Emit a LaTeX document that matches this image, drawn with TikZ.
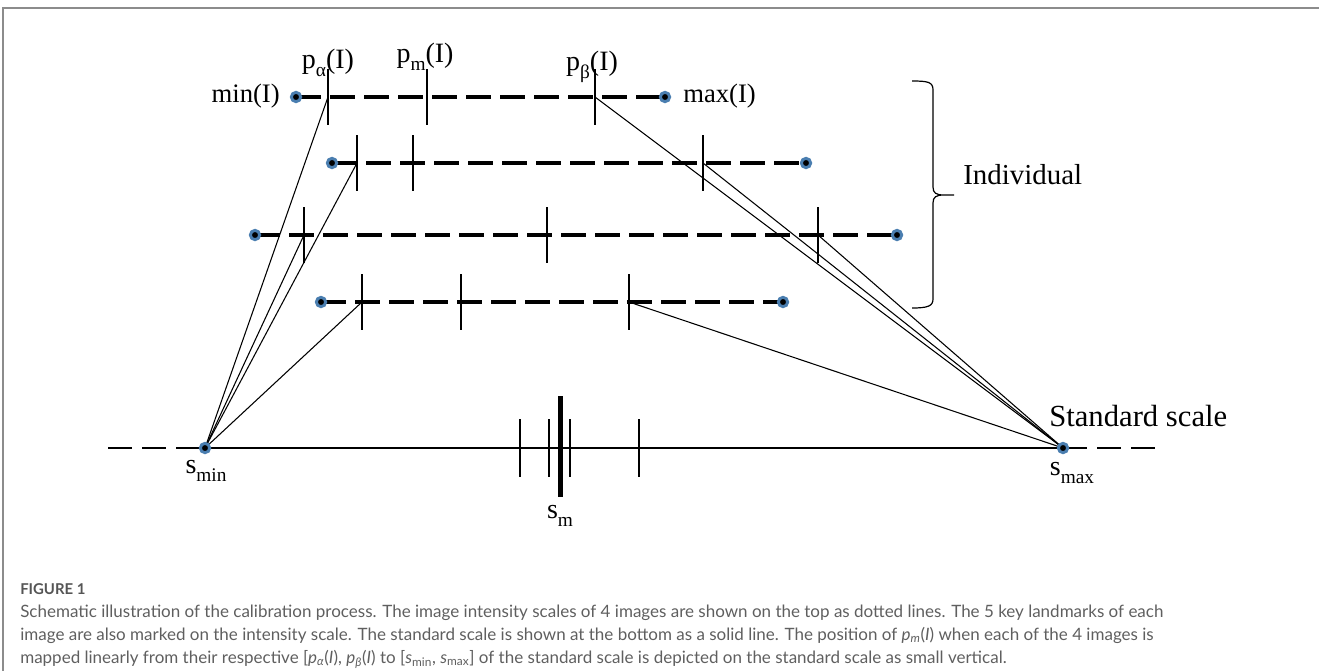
\documentclass[tikz,border=0pt]{standalone}
\usepackage{fontspec}
\setmainfont{Liberation Serif}
\newfontfamily\capfont{Lato}
\definecolor{dotblue}{RGB}{74,126,176}
\definecolor{capgray}{RGB}{95,95,95}
\definecolor{framegray}{RGB}{140,140,140}
\newcommand{\lsub}[1]{\raisebox{-0.3em}{\fontsize{14.5}{15}\selectfont #1}}
\tikzset{
  scaleline/.style={line width=2.6pt, dash pattern=on 18.75pt off 6.75pt},
  stdline/.style={line width=2.2pt},
  stddash/.style={line width=2.2pt, dash pattern=on 18pt off 7.5pt},
  tickln/.style={line width=0.9pt},
  link/.style={line width=0.8pt},
  endpt/.style={circle, fill=black, draw=dotblue, line width=2.2pt, minimum size=7pt, inner sep=0pt},
  lbl/.style={font=\fontsize{21}{25}\selectfont, inner sep=0pt},
  captxt/.style={font=\capfont\fontsize{12.75}{15}\selectfont, text=capgray, inner sep=0pt, anchor=base west}
}

\begin{document}
\begin{tikzpicture}[x=0.75pt, y=-0.75pt]
  \useasboundingbox (0,0) rectangle (1319,671);
  \draw[framegray, line width=1.1pt] (1319,8) -- (3,8) -- (3,671);
  \foreach \y/\lo/\a/\m/\b/\hi [count=\i] in {97/296/328/427/595/665, 163/332/357/413/703/806, 235/255/304/547/818/897, 302/321/362/461/629/783}{
    \coordinate (lo\i) at (\lo,\y); \coordinate (hi\i) at (\hi,\y);
    \coordinate (a\i) at (\a,\y); \coordinate (m\i) at (\m,\y); \coordinate (b\i) at (\b,\y);
    \draw[scaleline] (lo\i) -- (hi\i);
    \foreach \p in {a,m,b} \draw[tickln] (\p\i) ++(0,-28) -- ++(0,56);
  }
  \coordinate (smin) at (205,448); \coordinate (smax) at (1063,448);
  \coordinate (sl) at (108,448); \coordinate (sr) at (1163,448);
  \draw[stddash] (sl) -- (smin); \draw[stdline] (smin) -- (smax); \draw[stddash] (smax) -- (sr);
  \foreach \x in {520,549,570,639} \draw[tickln] (\x,419) -- (\x,477);
  \coordinate (sm) at (560,448);
  \draw[line width=3.75pt] (sm) ++(0,-52) -- ++(0,101);
  \foreach \i in {1,...,4} {\draw[link] (smin) -- (a\i); \draw[link] (b\i) -- (smax);}
  \foreach \i in {1,...,4} {\node[endpt] (dl\i) at (lo\i) {}; \node[endpt] (dr\i) at (hi\i) {};}
  \node[endpt] (dsmin) at (smin) {}; \node[endpt] (dsmax) at (smax) {};
  \draw[line width=0.9pt] (912,81) .. controls (928,81) and (933,82) .. (933,90) -- (933,187) .. controls (933,193) and (936,195) .. (944,195) -- (954,195)
    (944,195) .. controls (936,195) and (933,197) .. (933,203) -- (933,299) .. controls (933,306) and (928,308) .. (912,308);
  \node[lbl, font=\fontsize{20}{24}\selectfont, anchor=base east] (minl) at (280,102) {min(I)};
  \node[lbl, font=\fontsize{20}{24}\selectfont, anchor=base west] (maxl) at (683,102) {max(I)};
  \node[lbl, anchor=base] (pal) at (328,68) {p\lsub{α}(I)};
  \node[lbl, anchor=base] (pml) at (425,62) {p\lsub{m}(I)};
  \node[lbl, anchor=base] (pbl) at (592,70) {p\lsub{β}(I)};
  \node[lbl, font=\fontsize{21.7}{25}\selectfont, anchor=base west] (indl) at (963,184) {Individual};
  \node[lbl, font=\fontsize{23}{27}\selectfont, anchor=base west] (stdl) at (1049,426) {Standard scale};
  \node[lbl, anchor=north] (sminl) at (206,460) {s\lsub{min}};
  \node[lbl, anchor=north] (smaxl) at (1072,462) {s\lsub{max}};
  \node[lbl, anchor=north] (sml) at (560,505) {s\lsub{m}};
  \node[captxt, font=\capfont\bfseries\fontsize{11.2}{13}\selectfont, text=capgray!90!black] (fig) at (20,594) {FIGURE 1};
  \node[captxt] (cap1) at (20,617) {Schematic illustration of the calibration process. The image intensity scales of 4 images are shown on the top as dotted lines. The 5 key landmarks of each};
  \node[captxt] (cap2) at (20,640) {image are also marked on the intensity scale. The standard scale is shown at the bottom as a solid line. The position of \textit{p}\textsubscript{\textit{m}}(\textit{I}) when each of the 4 images is};
  \node[captxt] (cap3) at (20,663) {mapped linearly from their respective [\textit{p}\textsubscript{\textit{α}}(\textit{I}), \textit{p}\textsubscript{\textit{β}}(\textit{I}) to [\textit{s}\textsubscript{min}, \textit{s}\textsubscript{max}] of the standard scale is depicted on the standard scale as small vertical.};
\end{tikzpicture}
\end{document}
